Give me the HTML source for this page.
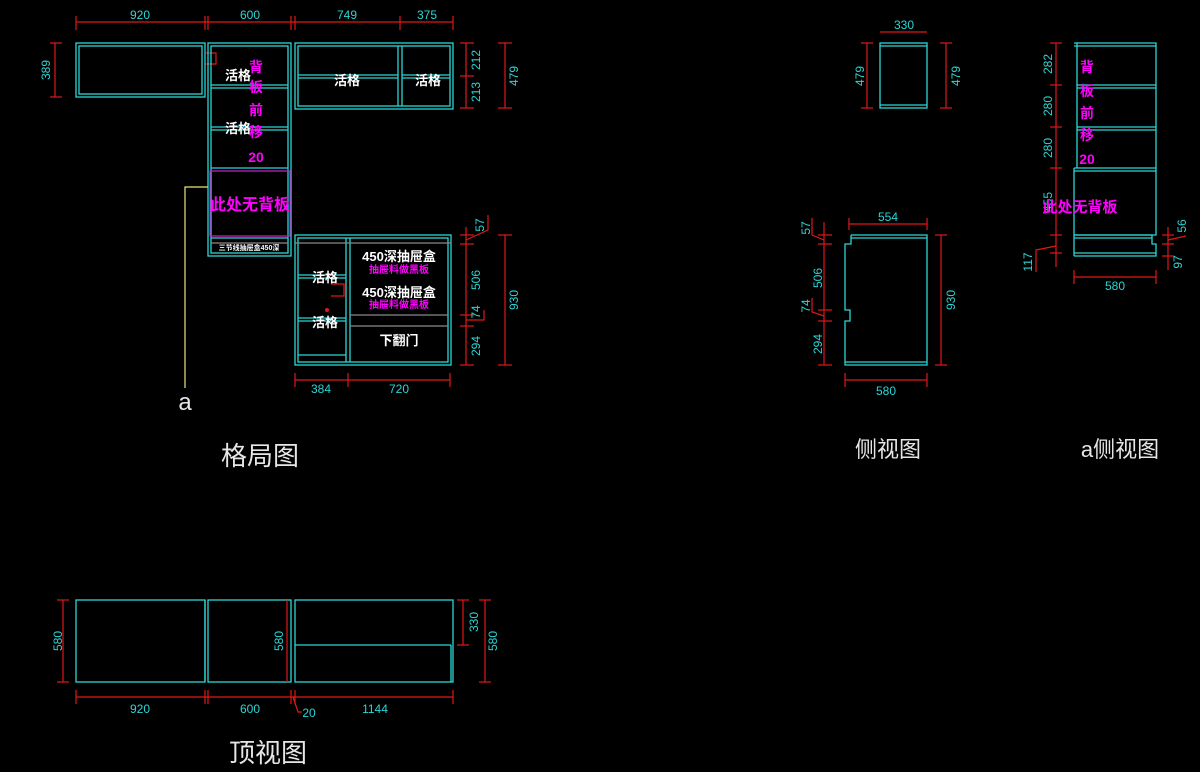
<!DOCTYPE html>
<html><head><meta charset="utf-8"><style>
html,body{margin:0;padding:0;background:#000;}
svg{display:block}
text{font-family:"Liberation Sans","Noto Sans CJK SC",sans-serif;}
.c{stroke:#2ad6d6;fill:none;stroke-width:1.3}
.r{stroke:#e01818;fill:none;stroke-width:1.2}
.g{stroke:#8a8a8a;fill:none;stroke-width:1.3}
.t{fill:#2ad6d6;font-size:12px}
.w{fill:#fff;font-weight:bold;font-size:13px}
.m{fill:#ff00ff;font-weight:bold;font-size:14px}
.big{fill:#e6e6e6;font-size:26px}
</style></head><body>
<svg width="1200" height="772" viewBox="0 0 1200 772" xmlns="http://www.w3.org/2000/svg">
<rect width="1200" height="772" fill="#000"/>
<!-- top dims -->
<g class="r">
<line x1="76" y1="22" x2="453" y2="22"/>
<line x1="76" y1="16" x2="76" y2="30"/><line x1="205" y1="16" x2="205" y2="30"/><line x1="208" y1="16" x2="208" y2="30"/>
<line x1="291" y1="16" x2="291" y2="30"/><line x1="295" y1="16" x2="295" y2="30"/><line x1="400" y1="16" x2="400" y2="30"/><line x1="453" y1="16" x2="453" y2="30"/>
<line x1="55" y1="43" x2="55" y2="97"/><line x1="50" y1="43" x2="62" y2="43"/><line x1="50" y1="97" x2="62" y2="97"/>
<line x1="466" y1="43" x2="466" y2="108"/><line x1="460" y1="43" x2="474" y2="43"/><line x1="460" y1="76" x2="474" y2="76"/><line x1="460" y1="108" x2="474" y2="108"/>
<line x1="505" y1="43" x2="505" y2="108"/><line x1="498" y1="43" x2="512" y2="43"/><line x1="498" y1="108" x2="512" y2="108"/>
<line x1="466" y1="227" x2="466" y2="365"/><line x1="460" y1="235" x2="474" y2="235"/><line x1="460" y1="244" x2="474" y2="244"/><line x1="460" y1="315" x2="474" y2="315"/><line x1="460" y1="326" x2="474" y2="326"/><line x1="460" y1="365" x2="474" y2="365"/>
<polyline points="466,240 488,230 488,215"/><polyline points="466,320 484,320 484,310"/>
<line x1="505" y1="235" x2="505" y2="365"/><line x1="498" y1="235" x2="512" y2="235"/><line x1="498" y1="365" x2="512" y2="365"/>
<line x1="295" y1="380" x2="450" y2="380"/><line x1="295" y1="373" x2="295" y2="387"/><line x1="348" y1="373" x2="348" y2="387"/><line x1="450" y1="373" x2="450" y2="387"/>
<polyline points="206,53 216,53 216,64 206,64"/><polyline points="331,284 344,284 344,296 331,296"/>
</g>
<circle cx="327" cy="310" r="2" fill="#e01818"/>
<g class="t" text-anchor="middle">
<text x="140" y="19">920</text><text x="250" y="19">600</text><text x="347" y="19">749</text><text x="427" y="19">375</text>
<text x="321" y="393">384</text><text x="399" y="393">720</text>
</g>
<g class="t" text-anchor="middle">
<text transform="translate(50,70) rotate(-90)">389</text>
<text transform="translate(480,60) rotate(-90)">212</text><text transform="translate(480,92) rotate(-90)">213</text>
<text transform="translate(518,76) rotate(-90)">479</text>
<text transform="translate(484,225) rotate(-90)">57</text><text transform="translate(480,280) rotate(-90)">506</text>
<text transform="translate(480,312) rotate(-90)">74</text><text transform="translate(480,346) rotate(-90)">294</text>
<text transform="translate(518,300) rotate(-90)">930</text>
</g>
<!-- cabinets -->
<g class="c">
<rect x="76" y="43" width="129" height="54"/><rect x="79" y="46" width="123" height="48"/>
<rect x="208" y="43" width="83" height="213"/><rect x="211" y="46" width="77" height="207"/>
<line x1="211" y1="85" x2="288" y2="85"/><line x1="211" y1="88" x2="288" y2="88"/>
<line x1="211" y1="127" x2="288" y2="127"/><line x1="211" y1="130" x2="288" y2="130"/>
<line x1="211" y1="168" x2="288" y2="168"/>
<line x1="211" y1="238" x2="288" y2="238"/>
<rect x="295" y="43" width="158" height="66"/><rect x="298" y="46" width="152" height="60"/>
<line x1="398" y1="46" x2="398" y2="106"/><line x1="402" y1="46" x2="402" y2="106"/>
<line x1="298" y1="75" x2="398" y2="75"/><line x1="298" y1="78" x2="398" y2="78"/>
<line x1="402" y1="75" x2="450" y2="75"/><line x1="402" y1="78" x2="450" y2="78"/>
<rect x="295" y="235" width="156" height="130"/><rect x="298" y="238" width="150" height="124"/>
<line x1="346" y1="238" x2="346" y2="362"/><line x1="350" y1="238" x2="350" y2="362"/>
<line x1="298" y1="275" x2="346" y2="275"/><line x1="298" y1="278" x2="346" y2="278"/>
<line x1="298" y1="318" x2="346" y2="318"/><line x1="298" y1="321" x2="346" y2="321"/>
<line x1="298" y1="355" x2="346" y2="355"/>
</g>
<rect x="210" y="171" width="80" height="65" fill="none" stroke="#c020c0" stroke-width="1.3"/>
<g class="g"><line x1="295" y1="243" x2="451" y2="243"/><line x1="350" y1="315" x2="448" y2="315"/><line x1="350" y1="326" x2="448" y2="326"/><line x1="211" y1="243" x2="288" y2="243"/></g>
<polyline points="208,187 185,187 185,388" fill="none" stroke="#e8e870" stroke-width="1.2"/>
<text x="185" y="410" text-anchor="middle" style="fill:#e6e6e6;font-size:24px">a</text>
<g class="w" text-anchor="middle">
<text x="238" y="80">活格</text><text x="238" y="133">活格</text>
<text x="347" y="85">活格</text><text x="428" y="85">活格</text>
<text x="325" y="282">活格</text><text x="325" y="327">活格</text>
<text x="399" y="261">450深抽屉盒</text><text x="399" y="297">450深抽屉盒</text>
<text x="399" y="345">下翻门</text>
<text x="249" y="250" style="font-size:7px">三节线抽屉盒450深</text>
</g>
<g class="m" text-anchor="middle">
<text x="256" y="72">背</text><text x="256" y="92">板</text><text x="256" y="115">前</text><text x="256" y="137">移</text><text x="256" y="162">20</text>
<text x="250" y="210" style="font-size:16px">此处无背板</text>
<text x="399" y="273" style="font-size:10px">抽屉料做黑板</text><text x="399" y="308" style="font-size:10px">抽屉料做黑板</text>
</g>
<text x="260" y="465" text-anchor="middle" class="big">格局图</text>

<!-- side view -->
<g class="c">
<rect x="880" y="43" width="47" height="65"/><line x1="880" y1="46" x2="927" y2="46"/><line x1="880" y1="105" x2="927" y2="105"/>
<polyline points="851,235 927,235 927,365 845,365 845,321 850,321 850,310 845,310 845,244 851,244 851,235"/>
<line x1="851" y1="238" x2="927" y2="238"/><line x1="845" y1="362" x2="927" y2="362"/>
</g>
<g class="r">
<line x1="880" y1="32" x2="927" y2="32"/>
<line x1="867" y1="43" x2="867" y2="108"/><line x1="861" y1="43" x2="873" y2="43"/><line x1="861" y1="108" x2="873" y2="108"/>
<line x1="946" y1="43" x2="946" y2="108"/><line x1="940" y1="43" x2="952" y2="43"/><line x1="940" y1="108" x2="952" y2="108"/>
<line x1="849" y1="224" x2="927" y2="224"/><line x1="849" y1="218" x2="849" y2="230"/><line x1="927" y1="218" x2="927" y2="230"/>
<line x1="941" y1="235" x2="941" y2="365"/><line x1="935" y1="235" x2="947" y2="235"/><line x1="935" y1="365" x2="947" y2="365"/>
<line x1="845" y1="380" x2="927" y2="380"/><line x1="845" y1="373" x2="845" y2="387"/><line x1="927" y1="373" x2="927" y2="387"/>
<line x1="824" y1="222" x2="824" y2="365"/><line x1="818" y1="235" x2="832" y2="235"/><line x1="818" y1="244" x2="832" y2="244"/><line x1="818" y1="310" x2="832" y2="310"/><line x1="818" y1="321" x2="832" y2="321"/><line x1="818" y1="365" x2="832" y2="365"/>
<polyline points="824,240 812,235 812,218"/><polyline points="824,316 812,312 812,298"/>
</g>
<g class="t" text-anchor="middle">
<text x="904" y="29">330</text><text x="888" y="221">554</text><text x="886" y="395">580</text>
<text transform="translate(864,76) rotate(-90)">479</text><text transform="translate(960,76) rotate(-90)">479</text>
<text transform="translate(955,300) rotate(-90)">930</text>
<text transform="translate(810,228) rotate(-90)">57</text><text transform="translate(822,278) rotate(-90)">506</text>
<text transform="translate(810,306) rotate(-90)">74</text><text transform="translate(822,344) rotate(-90)">294</text>
</g>
<text x="888" y="457" text-anchor="middle" class="big" style="font-size:22px">侧视图</text>

<!-- a side view -->
<g class="c">
<polyline points="1074,43 1156,43 1156,235 1074,235"/><line x1="1074" y1="46" x2="1156" y2="46"/>
<line x1="1077" y1="43" x2="1077" y2="168"/>
<line x1="1077" y1="85" x2="1156" y2="85"/><line x1="1077" y1="88" x2="1156" y2="88"/>
<line x1="1077" y1="127" x2="1156" y2="127"/><line x1="1077" y1="130" x2="1156" y2="130"/>
<line x1="1074" y1="168" x2="1156" y2="168"/><line x1="1074" y1="171" x2="1156" y2="171"/>
<line x1="1074" y1="168" x2="1074" y2="256"/>
<polyline points="1074,235 1152,235 1152,244 1156,244 1156,256 1074,256"/>
<line x1="1074" y1="238" x2="1152" y2="238"/><line x1="1074" y1="253" x2="1156" y2="253"/>
</g>
<g class="r">
<line x1="1056" y1="43" x2="1056" y2="267"/>
<line x1="1050" y1="43" x2="1062" y2="43"/><line x1="1050" y1="85" x2="1062" y2="85"/><line x1="1050" y1="127" x2="1062" y2="127"/><line x1="1050" y1="168" x2="1062" y2="168"/><line x1="1050" y1="235" x2="1062" y2="235"/><line x1="1050" y1="253" x2="1062" y2="253"/>
<polyline points="1056,246 1036,250 1036,272"/>
<line x1="1168" y1="227" x2="1168" y2="270"/><line x1="1162" y1="235" x2="1174" y2="235"/><line x1="1162" y1="244" x2="1174" y2="244"/><line x1="1162" y1="256" x2="1174" y2="256"/>
<polyline points="1168,240 1186,236"/>
<line x1="1074" y1="277" x2="1156" y2="277"/><line x1="1074" y1="270" x2="1074" y2="284"/><line x1="1156" y1="270" x2="1156" y2="284"/>
</g>
<g class="t" text-anchor="middle">
<text x="1115" y="290">580</text>
<text transform="translate(1052,64) rotate(-90)">282</text><text transform="translate(1052,106) rotate(-90)">280</text>
<text transform="translate(1052,148) rotate(-90)">280</text><text transform="translate(1052,202) rotate(-90)">455</text>
<text transform="translate(1032,262) rotate(-90)">117</text>
<text transform="translate(1186,226) rotate(-90)">56</text><text transform="translate(1182,262) rotate(-90)">97</text>
</g>
<g class="m" text-anchor="middle">
<text x="1087" y="72">背</text><text x="1087" y="96">板</text><text x="1087" y="118">前</text><text x="1087" y="140">移</text><text x="1087" y="164">20</text>
<text x="1080" y="212" style="font-size:15px">此处无背板</text>
</g>
<text x="1120" y="457" text-anchor="middle" class="big" style="font-size:22px">a侧视图</text>

<!-- top view -->
<g class="c">
<rect x="76" y="600" width="129" height="82"/>
<rect x="208" y="600" width="83" height="82"/><line x1="205" y1="600" x2="205" y2="682"/>
<rect x="295" y="600" width="158" height="82"/><line x1="295" y1="645" x2="451" y2="645"/><line x1="451" y1="645" x2="451" y2="682"/>
</g>
<g class="r">
<line x1="63" y1="600" x2="63" y2="682"/><line x1="57" y1="600" x2="69" y2="600"/><line x1="57" y1="682" x2="69" y2="682"/>
<line x1="287" y1="600" x2="287" y2="682"/>
<line x1="463" y1="600" x2="463" y2="645"/><line x1="457" y1="600" x2="469" y2="600"/><line x1="457" y1="645" x2="469" y2="645"/>
<line x1="485" y1="600" x2="485" y2="682"/><line x1="479" y1="600" x2="491" y2="600"/><line x1="479" y1="682" x2="491" y2="682"/>
<line x1="76" y1="697" x2="453" y2="697"/>
<line x1="76" y1="690" x2="76" y2="704"/><line x1="205" y1="690" x2="205" y2="704"/><line x1="208" y1="690" x2="208" y2="704"/><line x1="291" y1="690" x2="291" y2="704"/><line x1="295" y1="690" x2="295" y2="704"/><line x1="453" y1="690" x2="453" y2="704"/>
<polyline points="293,697 298,712 302,712"/>
</g>
<g class="t" text-anchor="middle">
<text transform="translate(62,641) rotate(-90)">580</text><text transform="translate(283,641) rotate(-90)">580</text>
<text transform="translate(478,622) rotate(-90)">330</text><text transform="translate(497,641) rotate(-90)">580</text>
<text x="140" y="713">920</text><text x="250" y="713">600</text><text x="309" y="717">20</text><text x="375" y="713">1144</text>
</g>
<text x="268" y="762" text-anchor="middle" class="big">顶视图</text>
</svg>
</body></html>
